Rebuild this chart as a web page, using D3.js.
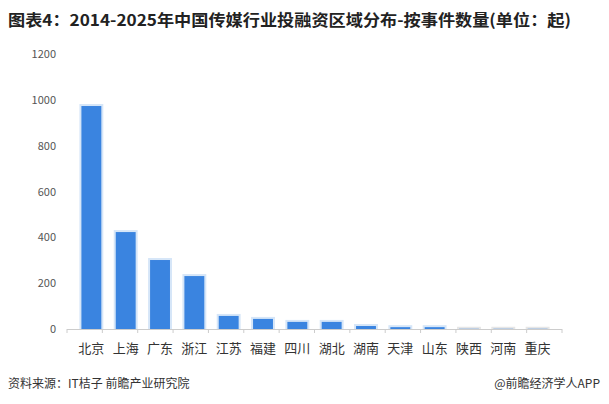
<!DOCTYPE html><html><head><meta charset="utf-8"><script src="https://cdn.jsdelivr.net/npm/d3@7"></script>
<style>body{margin:0;background:#fff}text{font-family:"Noto Sans CJK SC",sans-serif}</style></head><body><svg width="609" height="404"></svg>
<script>
const categories=["北京","上海","广东","浙江","江苏","福建","四川","湖北","湖南","天津","山东","陕西","河南","重庆"];
const values=[973,423,301,231,57,44,31,31,13,8,8,1,1,1];
const ticks=[0,200,400,600,800,1000,1200];
const svg=d3.select("svg");
svg.append("text").attr("x",8).attr("y",26).attr("font-size",16).attr("font-weight","bold").attr("fill","#222").attr("textLength",563).attr("lengthAdjust","spacingAndGlyphs")
 .text("图表4：2014-2025年中国传媒行业投融资区域分布-按事件数量(单位：起)");
const x=d3.scaleBand().domain(categories).range([67,562]).padding(0.42);
const y=d3.scaleLinear().domain([0,1200]).range([329,54]);
svg.append("g").selectAll("text").data(ticks).join("text").attr("x",56).attr("y",d=>y(d)+4).attr("text-anchor","end").attr("font-size",11).attr("fill","#555").text(d=>d);
svg.append("line").attr("x1",67).attr("x2",562).attr("y1",329.5).attr("y2",329.5).attr("stroke","#ccc");
svg.append("g").selectAll("line").data(d3.range(15)).join("line").attr("x1",i=>67+i*495/14).attr("x2",i=>67+i*495/14).attr("y1",329).attr("y2",333).attr("stroke","#ccc");
svg.append("g").selectAll("rect").data(categories).join("rect")
 .attr("x",d=>x(d)-2).attr("width",x.bandwidth()+4)
 .attr("y",(d,i)=>y(values[i])-2).attr("height",(d,i)=>329-y(values[i])+2).attr("fill",(d,i)=>values[i]<3?"#e6e6e6":"#d6e6f8");
svg.append("g").selectAll("rect").data(categories).join("rect")
 .attr("x",d=>x(d)).attr("width",x.bandwidth())
 .attr("y",(d,i)=>y(values[i])).attr("height",(d,i)=>329-y(values[i])).attr("fill","#3a84e0");
svg.append("g").selectAll("text").data(categories).join("text").attr("x",d=>x(d)+x.bandwidth()/2).attr("y",353).attr("text-anchor","middle").attr("font-size",13).attr("fill","#333").text(d=>d);
svg.append("text").attr("x",8).attr("y",388).attr("font-size",12).attr("fill","#333").text("资料来源：IT桔子 前瞻产业研究院");
svg.append("text").attr("x",600).attr("y",388).attr("text-anchor","end").attr("font-size",12).attr("fill","#333").text("@前瞻经济学人APP");
</script></body></html>
